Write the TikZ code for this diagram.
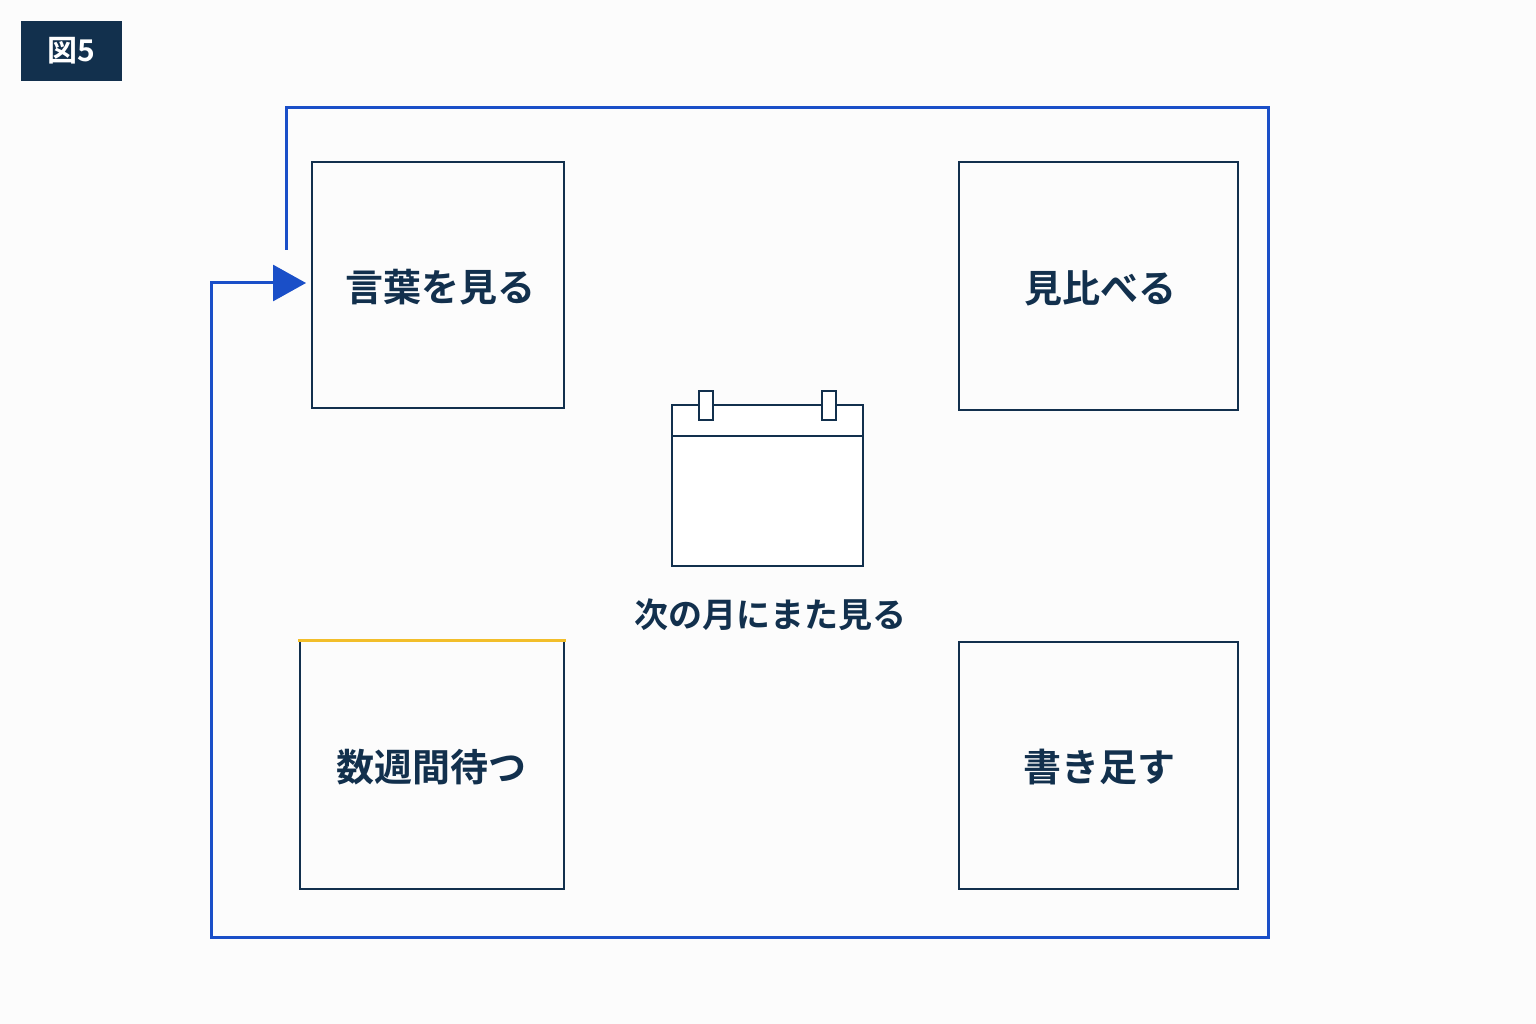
\documentclass[tikz,border=0pt]{standalone}
\usepackage{fontspec}
\newfontfamily\jp{Noto Sans CJK JP}[BoldFont={Noto Sans CJK JP Bold}]
\usetikzlibrary{arrows.meta}
\definecolor{navy}{HTML}{12304D}
\definecolor{loopblue}{HTML}{1A4FC8}
\definecolor{gold}{HTML}{F2BE2A}
\begin{document}
\begin{tikzpicture}[x=1pt,y=-1pt,
  box/.style={draw=navy,line width=2.5pt},
  lbl/.style={font=\jp\bfseries\fontsize{38}{40}\selectfont,text=navy},
  loop/.style={draw=loopblue,line width=3pt}]
\useasboundingbox[fill=white!98!gray] (0,0) rectangle (1536,1024);
\node[fill=navy,minimum width=101pt,minimum height=60pt,inner sep=0,text=white,font=\jp\bfseries\fontsize{30}{32}\selectfont] (title) at (71.5,51) {図5};
% boxes
\draw[box] (312,162) rectangle (564,408);
\node[lbl] (b1) at (440,287) {言葉を見る};
\draw[box] (959,162) rectangle (1238,410);
\node[lbl] (b2) at (1100,288) {見比べる};
\draw[box] (300,640) rectangle (564,889);
\draw[draw=gold,line width=3pt] (298,640) -- (566,640);
\node[lbl] (b3) at (431,767) {数週間待つ};
\draw[box] (959,642) rectangle (1238,889);
\node[lbl] (b4) at (1099,767) {書き足す};
% calendar
\draw[box,fill=white] (672,405) rectangle (863,566);
\draw[box] (672,436) -- (863,436);
\draw[box,fill=white] (699,391) rectangle (713,420);
\draw[box,fill=white] (822,391) rectangle (836,420);
\node[font=\jp\bfseries\fontsize{34}{36}\selectfont,text=navy] (cal) at (770,615) {次の月にまた見る};
% loop
\coordinate (s) at (286,250);
\coordinate (e) at (306,283);
\draw[loop,-{Triangle[length=33pt,width=36pt]}] (s) -- (286,108) -- (1268,108) -- (1268,937) -- (211,937) -- (211,283) -- (e);
\end{tikzpicture}
\end{document}
